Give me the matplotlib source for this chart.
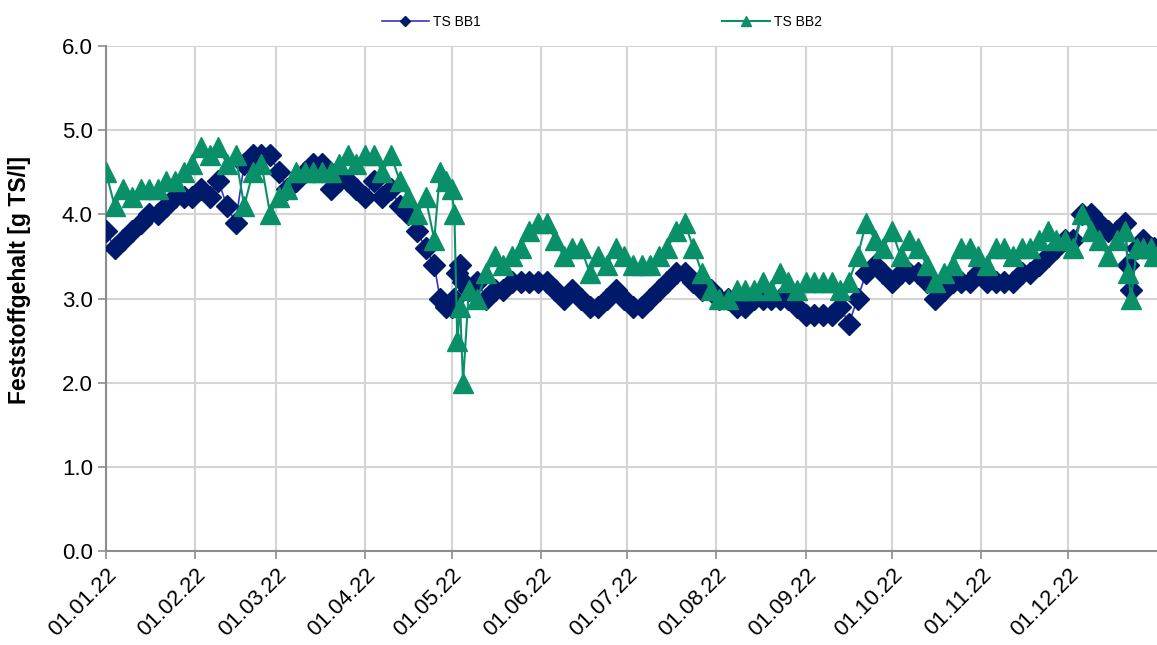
import matplotlib
matplotlib.use("Agg")
import matplotlib.pyplot as plt
import matplotlib.dates as mdates
from matplotlib.ticker import FormatStrFormatter, MultipleLocator
import pandas as pd

plt.rcParams['font.family'] = ['Liberation Sans', 'DejaVu Sans']

NAVY  = "#001A6B"
BLUE  = "#3333CC"
GREEN = "#0A9068"
GRID  = "#D4D4D4"
AXIS  = "#8C8C8C"

# Tage seit 01.01.22 (Messtage)
DAYS = (list(range(0, 114, 3))
        + [114, 116, 118, 120, 121, 122, 123, 124, 126]
        + list(range(129, 355, 3))
        + [355, 356, 358, 360, 363, 364])

TS_BB1 = [
    3.8, 3.6, 3.7, 3.8, 3.9, 4.0, 4.0, 4.1, 4.2, 4.2,
    4.2, 4.3, 4.2, 4.4, 4.1, 3.9, 4.6, 4.7, 4.7, 4.7,
    4.5, 4.3, 4.4, 4.5, 4.6, 4.6, 4.3, 4.4, 4.4, 4.3,
    4.2, 4.4, 4.2, 4.3, 4.1, 4.0, 3.8, 3.6,
    3.4, 3.0, 2.9, 2.9, 3.0, 3.3, 3.4, 3.2, 3.1,
    3.2, 3.0, 3.1, 3.1, 3.2, 3.2, 3.2, 3.2, 3.2, 3.1,
    3.0, 3.1, 3.0, 2.9, 2.9, 3.0, 3.1, 3.0, 2.9, 2.9,
    3.0, 3.1, 3.2, 3.3, 3.3, 3.2, 3.1, 3.1, 3.0, 3.0,
    2.9, 2.9, 3.0, 3.0, 3.0, 3.0, 3.0, 2.9, 2.8, 2.8,
    2.8, 2.8, 2.9, 2.7, 3.0, 3.3, 3.4, 3.3, 3.2, 3.3,
    3.3, 3.3, 3.2, 3.0, 3.1, 3.2, 3.2, 3.2, 3.3, 3.2,
    3.2, 3.2, 3.2, 3.3, 3.3, 3.4, 3.5, 3.6, 3.7, 3.7,
    4.0, 4.0, 3.9, 3.8, 3.8, 3.9,
    3.4, 3.1, 3.6, 3.7, 3.6, 3.6,
]

TS_BB2 = [
    4.5, 4.1, 4.3, 4.2, 4.3, 4.3, 4.3, 4.4, 4.4, 4.5,
    4.6, 4.8, 4.7, 4.8, 4.6, 4.7, 4.1, 4.5, 4.6, 4.0,
    4.2, 4.3, 4.5, 4.5, 4.5, 4.5, 4.5, 4.6, 4.7, 4.6,
    4.7, 4.7, 4.5, 4.7, 4.4, 4.2, 4.0, 4.2,
    3.7, 4.5, 4.4, 4.3, 4.0, 2.5, 2.9, 2.0, 3.1,
    3.0, 3.3, 3.5, 3.4, 3.5, 3.6, 3.8, 3.9, 3.9, 3.7,
    3.5, 3.6, 3.6, 3.3, 3.5, 3.4, 3.6, 3.5, 3.4, 3.4,
    3.4, 3.5, 3.6, 3.8, 3.9, 3.6, 3.3, 3.1, 3.0, 3.0,
    3.1, 3.1, 3.1, 3.2, 3.1, 3.3, 3.2, 3.1, 3.2, 3.2,
    3.2, 3.2, 3.1, 3.2, 3.5, 3.9, 3.7, 3.6, 3.8, 3.5,
    3.7, 3.6, 3.4, 3.2, 3.3, 3.4, 3.6, 3.6, 3.5, 3.4,
    3.6, 3.6, 3.5, 3.6, 3.6, 3.7, 3.8, 3.7, 3.7, 3.6,
    4.0, 3.8, 3.7, 3.5, 3.7, 3.8,
    3.3, 3.0, 3.6, 3.6, 3.6, 3.5,
]

dates = pd.Timestamp("2022-01-01") + pd.to_timedelta(DAYS, unit="D")

fig = plt.figure(figsize=(11.57, 6.45), dpi=100)
ax = fig.add_axes([0.0916, 0.1457, 0.9084, 0.783])

ax.plot(dates, TS_BB1, color=BLUE, lw=1.2, marker="D", ms=11,
        mfc=NAVY, mec=NAVY, label="TS BB1", zorder=3)
ax.plot(dates, TS_BB2, color=GREEN, lw=1.5, marker="^", ms=15,
        mfc=GREEN, mec=GREEN, label="TS BB2", zorder=4)

ax.set_ylim(0, 6)
ax.yaxis.set_major_locator(MultipleLocator(1.0))
ax.yaxis.set_major_formatter(FormatStrFormatter("%.1f"))
ax.set_xlim(pd.Timestamp("2022-01-01"), pd.Timestamp("2023-01-01"))
ax.xaxis.set_major_locator(mdates.MonthLocator(bymonthday=1))
ax.xaxis.set_major_formatter(mdates.DateFormatter("%d.%m.%y"))
# letzter Tick (01.01.23) nicht beschriften
ticks = [t for t in ax.get_xticks() if t < mdates.date2num(pd.Timestamp("2023-01-01"))]
ax.set_xticks(ticks)

ax.grid(True, color=GRID, lw=1.5)
ax.set_axisbelow(True)
for side in ["top", "right"]:
    ax.spines[side].set_visible(False)
for side in ["left", "bottom"]:
    ax.spines[side].set_color(AXIS)
    ax.spines[side].set_linewidth(1.5)
ax.tick_params(axis="both", direction="out", length=6, width=1.2, color=AXIS,
               labelsize=16, labelcolor="black")
plt.setp(ax.get_xticklabels(), rotation=45, ha="right", rotation_mode="anchor")

ax.set_ylabel("Feststoffgehalt [g TS/l]", fontsize=16.5, fontweight="bold")
ax.yaxis.set_label_coords(-0.071, 0.537)

fig.legend(loc="center", bbox_to_anchor=(0.52, 0.966), ncol=2, frameon=False,
           fontsize=10, handlelength=3.4, handletextpad=0.3, columnspacing=17.4,
           markerscale=0.5)

fig.savefig("out.png", dpi=100)
